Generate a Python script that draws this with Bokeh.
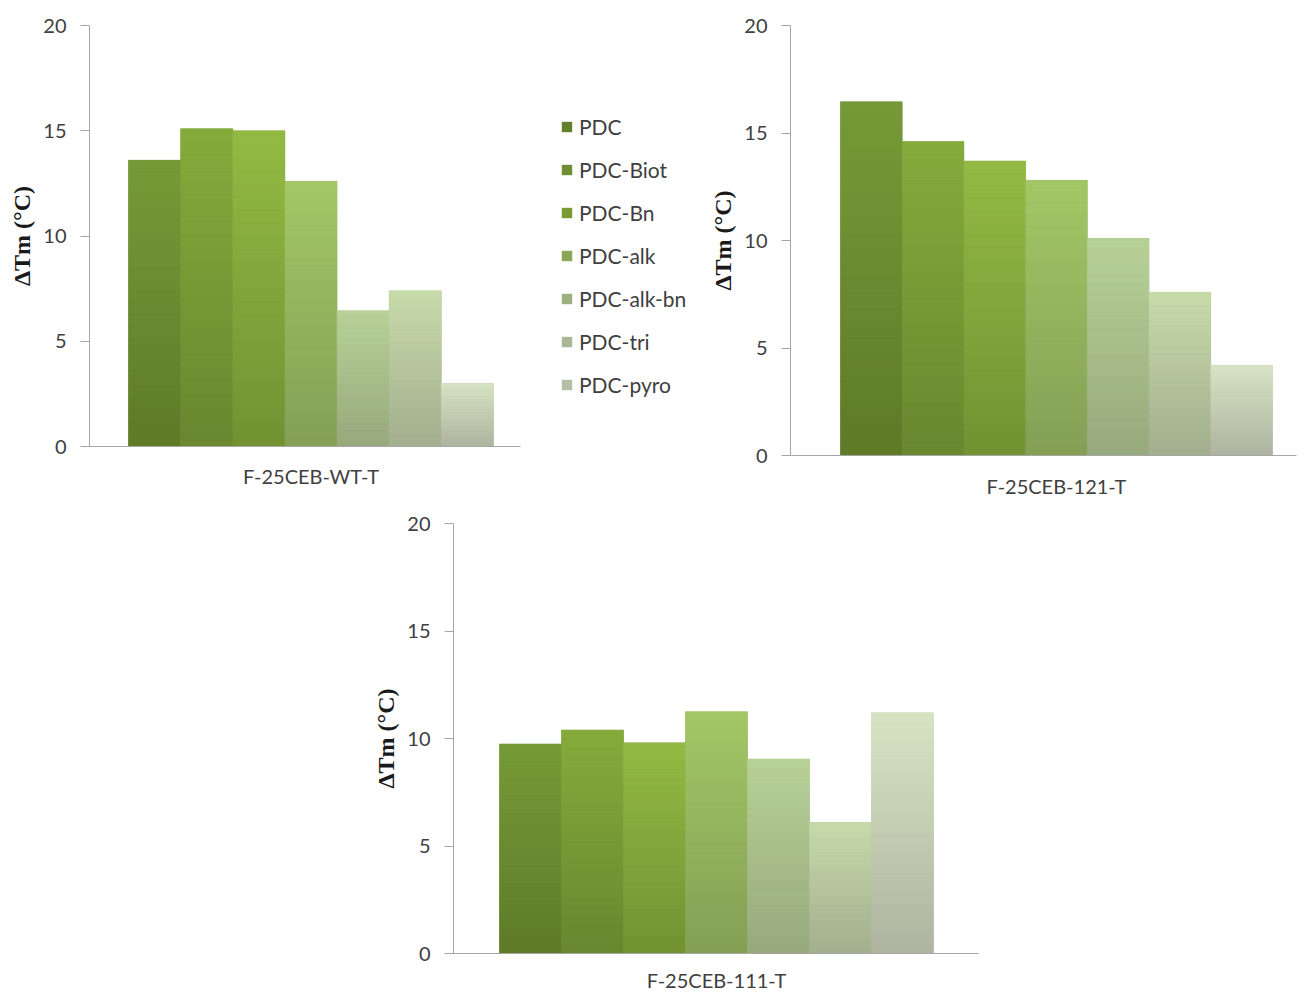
import numpy as np
from bokeh.plotting import figure
from bokeh.layouts import column, row
from bokeh.models import (Range1d, FixedTicker, Legend, LegendItem, Spacer,
                          ColumnDataSource)
from bokeh.embed import file_html
from bokeh.resources import INLINE

# ---------------- data ----------------
compounds = ["PDC", "PDC-Biot", "PDC-Bn", "PDC-alk", "PDC-alk-bn", "PDC-tri", "PDC-pyro"]
panel_names = ["F-25CEB-WT-T", "F-25CEB-121-T", "F-25CEB-111-T"]
wt_values = [13.6, 15.1, 15.0, 12.6, 6.45, 7.4, 3.0]
m121_values = [16.45, 14.6, 13.7, 12.8, 10.1, 7.6, 4.2]
m111_values = [9.75, 10.4, 9.8, 11.25, 9.05, 6.1, 11.2]
y_ticks = [0, 5, 10, 15, 20]

# ---------------- styles ----------------
top_colors = ["#779a38", "#86ab3c", "#93ba44", "#a3c766", "#b8d198", "#c7dbaa", "#d7e4c3"]
bottom_colors = ["#5e7a28", "#69872f", "#729233", "#849f55", "#97a97c", "#a3ae8e", "#aeb4a0"]
AXIS_COLOR = "#a6a6a6"
TEXT_COLOR = "#404040"
FONT = "Lato"
N_SEG = 24


def hex2rgb(h):
    h = h.lstrip("#")
    return tuple(int(h[i:i + 2], 16) for i in (0, 2, 4))


def mix(c1, c2, t):
    a, b = hex2rgb(c1), hex2rgb(c2)
    return "#%02x%02x%02x" % tuple(int(round(a[j] + (b[j] - a[j]) * t)) for j in range(3))


legend_colors = [mix(b, t, 0.2) for b, t in zip(bottom_colors, top_colors)]


def add_bars(p, values):
    xs = list(range(len(values)))
    # base bars (one per value)
    p.quad(left=[x - 0.5 for x in xs], right=[x + 0.5 for x in xs],
           bottom=0, top=values, fill_color=bottom_colors, line_color=None)
    # vertical gradient overlay, relative to each bar's height
    left, right, bottom, top, color = [], [], [], [], []
    for i, v in enumerate(values):
        for k in range(N_SEG):
            left.append(i - 0.5)
            right.append(i + 0.5)
            bottom.append(v * k / N_SEG)
            top.append(v * (k + 1) / N_SEG)
            color.append(mix(bottom_colors[i], top_colors[i], (k + 0.5) / N_SEG))
    src = ColumnDataSource(dict(left=left, right=right, bottom=bottom, top=top, color=color))
    p.quad(left="left", right="right", bottom="bottom", top="top",
           fill_color="color", line_color="color", line_width=0.5, source=src)


def make_panel(values, name, width, height, mbl, mbr, mbt, mbb, x0, x1, xstand):
    p = figure(width=width, height=height, x_range=Range1d(x0, x1), y_range=Range1d(0, 20),
               output_backend="svg", toolbar_location=None,
               min_border_left=mbl, min_border_right=mbr,
               min_border_top=mbt, min_border_bottom=mbb)
    p.grid.visible = False
    p.outline_line_color = None
    p.background_fill_color = "white"
    p.border_fill_color = "white"
    add_bars(p, values)

    ya = p.yaxis[0]
    ya.ticker = FixedTicker(ticks=y_ticks)
    ya.minor_tick_line_color = None
    ya.major_tick_in = 0
    ya.major_tick_out = 9
    ya.major_tick_line_color = AXIS_COLOR
    ya.axis_line_color = AXIS_COLOR
    ya.major_label_standoff = 14
    ya.major_label_text_font = FONT
    ya.major_label_text_font_size = "20px"
    ya.major_label_text_color = TEXT_COLOR
    ya.axis_label = "ΔTm (°C)"
    ya.axis_label_text_font = "Liberation Serif"
    ya.axis_label_text_font_style = "bold"
    ya.axis_label_text_font_size = "24px"
    ya.axis_label_text_color = "#1a1a1a"
    ya.axis_label_standoff = 5

    xa = p.xaxis[0]
    xa.ticker = FixedTicker(ticks=[3])
    xa.major_label_overrides = {3: name}
    xa.minor_tick_line_color = None
    xa.major_tick_line_color = None
    xa.major_tick_in = 0
    xa.major_tick_out = 0
    xa.axis_line_color = AXIS_COLOR
    xa.major_label_standoff = xstand
    xa.major_label_text_font = FONT
    xa.major_label_text_font_size = "20px"
    xa.major_label_text_color = TEXT_COLOR
    return p


# top-left panel: frame 431 x 421
f1 = make_panel(wt_values, panel_names[0], 540, 502, 89, 20, 25, 56, -1.248, 7.018, 17)
# top-right panel: frame 506 x 430
f2 = make_panel(m121_values, panel_names[1], 600, 502, 90, 4, 25, 47, -1.31, 6.889, 18)
# bottom panel: frame 525 x 430
f3 = make_panel(m111_values, panel_names[2], 638, 495, 93, 20, 21, 44, -1.242, 7.226, 14)

# legend figure (proxy renderers are hidden; the legend shows their colours)
lf = figure(width=160, height=502, x_range=Range1d(0, 1), y_range=Range1d(0, 1),
            output_backend="svg", toolbar_location=None, min_border=0,
            x_axis_location=None, y_axis_location=None)
lf.grid.visible = False
lf.outline_line_color = None
xs = list(range(len(compounds)))
proxy = lf.quad(left=[x - 0.5 for x in xs], right=[x + 0.5 for x in xs],
                bottom=0, top=wt_values, fill_color=legend_colors, line_color=None)
proxy.visible = False
items = [LegendItem(label=name, renderers=[proxy], index=i) for i, name in enumerate(compounds)]
legend = Legend(items=items, location=(20, 105), padding=0, margin=0,
                border_line_color=None, background_fill_alpha=0,
                inactive_fill_alpha=0,
                glyph_width=13, glyph_height=13, label_height=26, spacing=17,
                label_standoff=6, label_text_font=FONT, label_text_font_size="21px",
                label_text_color=TEXT_COLOR)
lf.add_layout(legend)

layout = column(row(column(f1), lf, column(f2)),
                row(Spacer(width=360, height=495), f3))

with open("out.html", "w") as fh:
    fh.write(file_html(layout, INLINE))
